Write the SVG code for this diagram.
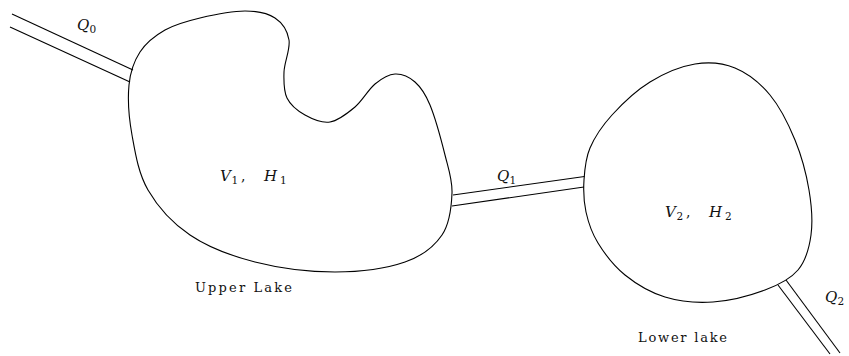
<svg xmlns="http://www.w3.org/2000/svg" width="849" height="356" viewBox="0 0 849 356">
<style>
.lake{fill:none;stroke:#000;stroke-width:1.1}
.pipe{stroke:#000;stroke-width:1.1;fill:none}
.m{font-family:"DejaVu Serif","Liberation Serif",serif;font-style:italic;font-size:15px;fill:#111}
.s{font-family:"DejaVu Serif","Liberation Serif",serif;font-size:10.5px;fill:#111}
.c{font-family:"DejaVu Serif","Liberation Serif",serif;font-size:14px;fill:#111}
.lbl{font-family:"DejaVu Serif","Liberation Serif",serif;font-size:13px;fill:#111}
</style>
<rect width="849" height="356" fill="#fff"/>
<g id="connectors">
  <g id="pipe-q0">
    <line class="pipe" x1="12" y1="14" x2="133" y2="70"/>
    <line class="pipe" x1="10" y1="27" x2="130" y2="82"/>
  </g>
  <g id="pipe-q1">
    <line class="pipe" x1="453" y1="195" x2="584.5" y2="176.5"/>
    <line class="pipe" x1="452" y1="206" x2="584" y2="187"/>
  </g>
  <g id="pipe-q2">
    <line class="pipe" x1="778" y1="285" x2="830" y2="354"/>
    <line class="pipe" x1="786" y1="280" x2="840" y2="353"/>
  </g>
</g>
<g id="upper-lake">
  <path class="lake" d="M129,85 C130.33,71.17 134,61.17 140,52 C146,42.83 155,35.67 165,30 C175,24.33 186.67,21.17 200,18 C213.33,14.83 232.5,11 245,11 C257.5,11 267.67,13.17 275,18 C282.33,22.83 287.5,31 289,40 C290.5,49 284.33,62.33 284,72 C283.67,81.67 283.5,90.83 287,98 C290.5,105.17 297.83,111 305,115 C312.17,119 321.67,123.33 330,122 C338.33,120.67 347.5,113.33 355,107 C362.5,100.67 368.33,89.5 375,84 C381.67,78.5 388.33,74.33 395,74 C401.67,73.67 409.17,76.83 415,82 C420.83,87.17 425,92.83 430,105 C435,117.17 441.33,140.33 445,155 C448.67,169.67 452.5,179.67 452,193 C451.5,206.33 449.83,223.5 442,235 C434.17,246.5 422.83,255.83 405,262 C387.17,268.17 360,272 335,272 C310,272 279.17,268.17 255,262 C230.83,255.83 207.83,247 190,235 C172.17,223 157.67,206.67 148,190 C138.33,173.33 135.17,152.5 132,135 C128.83,117.5 127.67,98.83 129,85 Z"/>
  <text class="m" x="220" y="181">V</text><text class="s" x="231.5" y="183.5">1</text><text class="c" x="241" y="181">,</text>
  <text class="m" x="264" y="181">H</text><text class="s" x="280" y="183.5">1</text>
  <text class="lbl" x="195" y="292" textLength="97" lengthAdjust="spacing">Upper Lake</text>
</g>
<g id="lower-lake">
  <path class="lake" d="M584,180 C584.67,169.33 585.33,158.83 590,148 C594.67,137.17 602,126 612,115 C622,104 636.17,90.5 650,82 C663.83,73.5 680.83,66.33 695,64 C709.17,61.67 722.5,62.83 735,68 C747.5,73.17 760,83 770,95 C780,107 788.5,124.17 795,140 C801.5,155.83 806.33,174.17 809,190 C811.67,205.83 812.83,221.67 811,235 C809.17,248.33 805.67,260.83 798,270 C790.33,279.17 779.17,284.67 765,290 C750.83,295.33 729.67,300.83 713,302 C696.33,303.17 679.67,301.5 665,297 C650.33,292.5 636.17,284 625,275 C613.83,266 604.5,253.5 598,243 C591.5,232.5 588.33,222.5 586,212 C583.67,201.5 583.33,190.67 584,180 Z"/>
  <text class="m" x="665" y="217">V</text><text class="s" x="676.5" y="219.5">2</text><text class="c" x="686" y="217">,</text>
  <text class="m" x="709" y="217">H</text><text class="s" x="725" y="219.5">2</text>
  <text class="lbl" x="638" y="342" textLength="89" lengthAdjust="spacing">Lower lake</text>
</g>
<g id="labels">
  <text class="m" x="77" y="30">Q</text><text class="s" x="89.5" y="32.5">0</text>
  <text class="m" x="497" y="181">Q</text><text class="s" x="509.5" y="183.5">1</text>
  <text class="m" x="825" y="302">Q</text><text class="s" x="837.5" y="304.5">2</text>
</g>
</svg>
